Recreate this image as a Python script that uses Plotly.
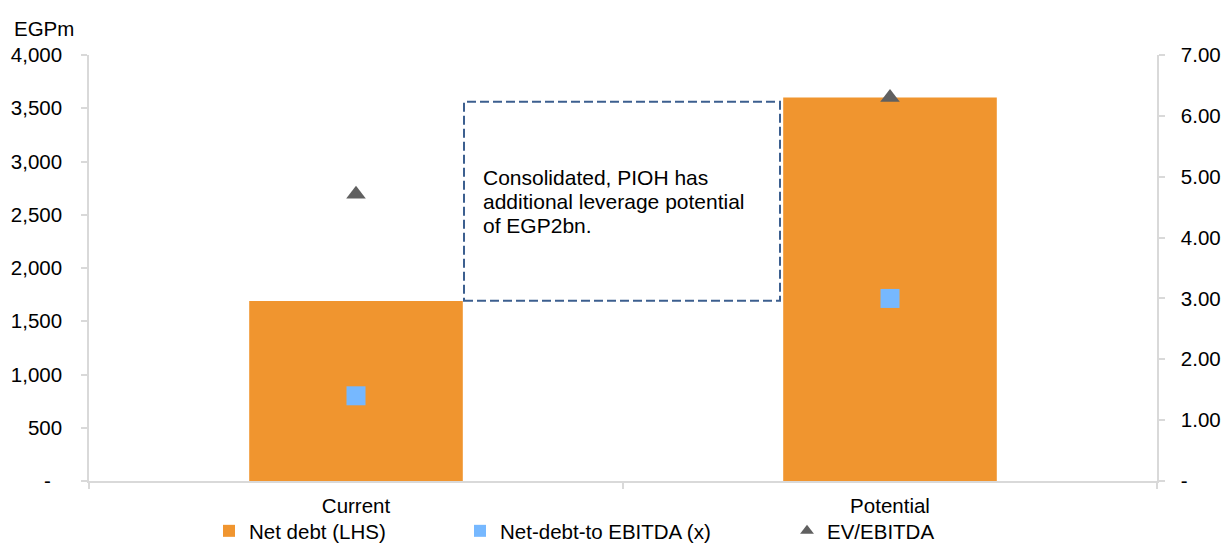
import plotly.graph_objects as go

# Chart data
categories = ["Current", "Potential"]
net_debt = [1690, 3600]            # EGPm, left axis
net_debt_to_ebitda = [1.40, 3.00]  # x, right axis
ev_to_ebitda = [4.71, 6.30]        # x, right axis

left_ticks = [0, 500, 1000, 1500, 2000, 2500, 3000, 3500, 4000]
left_tick_text = ["-\u00a0\u00a0", "500", "1,000", "1,500", "2,000", "2,500", "3,000", "3,500", "4,000"]
right_ticks = [0, 1, 2, 3, 4, 5, 6, 7]
right_tick_text = ["-", "1.00", "2.00", "3.00", "4.00", "5.00", "6.00", "7.00"]

note_lines = ["Consolidated, PIOH has", "additional leverage potential", "of EGP2bn."]

FONT = "Liberation Sans, Arial, sans-serif"
AXIS_GREY = "#d9d9d9"
ORANGE = "#F0952F"
BLUE = "#76B8FF"
DARK = "#606060"

W, H = 1226, 544
ML, MR, MT, MB = 89, 69, 55, 63
PW, PH = W - ML - MR, H - MT - MB


def px_x(px):
    return (px - ML) / PW


def px_y(py):
    return (H - MB - py) / PH


fig = go.Figure()

fig.add_trace(go.Bar(
    x=categories, y=net_debt, name="Net debt (LHS)",
    marker=dict(color=ORANGE, line=dict(width=0)),
    width=0.4, legend="legend", showlegend=True, hoverinfo="skip",
))
fig.add_trace(go.Scatter(
    x=categories, y=net_debt_to_ebitda, name="Net-debt-to EBITDA (x)",
    mode="markers", yaxis="y2",
    marker=dict(symbol="square", size=19, color=BLUE, line=dict(width=0)),
    legend="legend2", showlegend=True, hoverinfo="skip",
))
fig.add_trace(go.Scatter(
    x=categories, y=ev_to_ebitda, name="EV/EBITDA",
    mode="markers", yaxis="y2",
    marker=dict(symbol="triangle-up", size=17, color=DARK, line=dict(width=0)),
    legend="legend3", showlegend=True, hoverinfo="skip",
))

axis_common = dict(
    showgrid=False, zeroline=False, showline=True, linecolor=AXIS_GREY, linewidth=1.5,
    ticks="outside", ticklen=6, tickcolor=AXIS_GREY, tickwidth=1.5,
    tickfont=dict(family=FONT, size=20.5, color="#000000"), automargin=False,
)

fig.update_layout(
    width=W, height=H, autosize=False,
    margin=dict(l=ML, r=MR, t=MT, b=MB, pad=0, autoexpand=False),
    paper_bgcolor="white", plot_bgcolor="white",
    font=dict(family=FONT, size=20.5, color="#000000"),
    showlegend=True,
    xaxis=dict(type="category", range=[-0.5, 1.5], tickson="boundaries",
               ticklabelstandoff=6, **axis_common),
    yaxis=dict(range=[0, 4000], tickvals=left_ticks, ticktext=left_tick_text,
               ticklabelstandoff=15, **axis_common),
    yaxis2=dict(range=[0, 7], tickvals=right_ticks, ticktext=right_tick_text,
                overlaying="y", side="right", ticklabelstandoff=12, **axis_common),
    bargap=0.6,
    hovermode=False,
)

legend_common = dict(orientation="h", yanchor="middle", xanchor="left",
                     y=px_y(531), bgcolor="rgba(0,0,0,0)", borderwidth=0,
                     itemsizing="constant", itemwidth=30, visible=True,
                     font=dict(family=FONT, size=20.5, color="#000000"))
fig.update_layout(
    legend=dict(x=px_x(249 - 40), **legend_common),
    legend2=dict(x=px_x(500 - 40), **legend_common),
    legend3=dict(x=px_x(827 - 40), **legend_common),
)

# Unit label above the left axis
fig.add_annotation(text="EGPm", xref="paper", yref="paper", x=px_x(12), y=px_y(28),
                   xanchor="left", yanchor="middle", showarrow=False,
                   font=dict(family=FONT, size=20.5, color="#000000"))

# Dashed call-out box with note
fig.add_shape(type="rect", xref="x domain", yref="y domain",
              x0=px_x(464), x1=px_x(780), y0=px_y(300.7), y1=px_y(101.7),
              line=dict(color="#3C5F8F", width=2, dash="9px,4px"),
              fillcolor="rgba(0,0,0,0)")
for i, line in enumerate(note_lines):
    fig.add_annotation(text=line, xref="x domain", yref="y domain",
                       x=px_x(481), y=px_y(178 + 23.5 * i),
                       xanchor="left", yanchor="middle", showarrow=False,
                       font=dict(family=FONT, size=21, color="#000000"))

fig.write_html("out.html")
